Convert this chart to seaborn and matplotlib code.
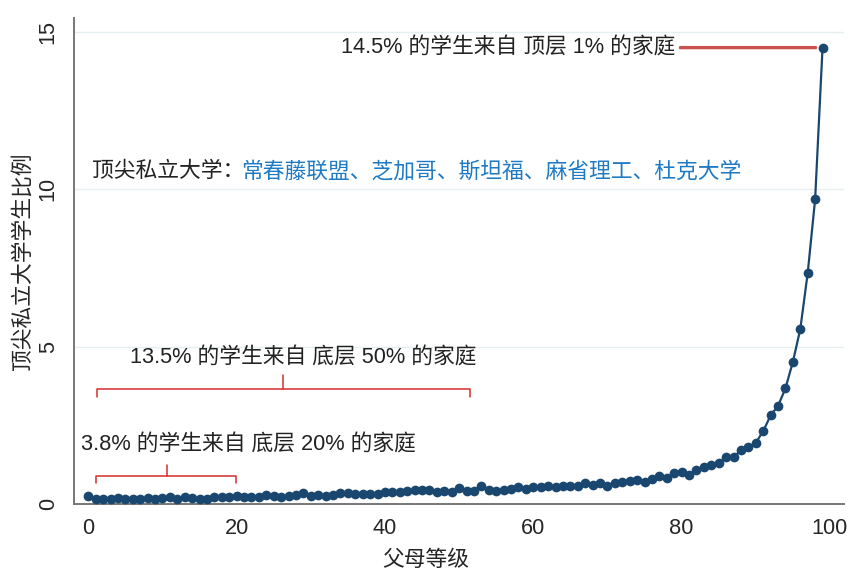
import numpy as np
import pandas as pd
import matplotlib
matplotlib.use("Agg")
import matplotlib.pyplot as plt
import seaborn as sns

# Données : part des étudiants (en %) par rang parental
parent_rank = np.arange(100)
student_share = [
    0.25, 0.16, 0.18, 0.18, 0.19, 0.16, 0.16, 0.17, 0.19, 0.16,
    0.20, 0.23, 0.16, 0.22, 0.19, 0.18, 0.16, 0.22, 0.22, 0.22,
    0.25, 0.22, 0.22, 0.22, 0.29, 0.25, 0.22, 0.25, 0.29, 0.36,
    0.27, 0.30, 0.27, 0.30, 0.36, 0.36, 0.32, 0.33, 0.33, 0.33,
    0.38, 0.38, 0.38, 0.43, 0.44, 0.46, 0.44, 0.39, 0.41, 0.40,
    0.50, 0.43, 0.43, 0.59, 0.46, 0.43, 0.46, 0.49, 0.55, 0.49,
    0.55, 0.55, 0.59, 0.55, 0.57, 0.57, 0.57, 0.68, 0.62, 0.66,
    0.57, 0.66, 0.71, 0.75, 0.76, 0.70, 0.81, 0.91, 0.84, 1.00,
    1.02, 0.94, 1.08, 1.19, 1.23, 1.31, 1.49, 1.49, 1.72, 1.81,
    1.95, 2.32, 2.82, 3.12, 3.68, 4.52, 5.56, 7.34, 9.68, 14.5,
]

x_ticks = [0, 20, 40, 60, 80, 100]
y_ticks = [0, 5, 10, 15]
x_label = "父母等级"
y_label = "顶尖私立大学学生比例"
title_black = "顶尖私立大学："
title_blue = "常春藤联盟、芝加哥、斯坦福、麻省理工、杜克大学"
note_top = "14.5% 的学生来自 顶层 1% 的家庭"
note_b50 = "13.5% 的学生来自 底层 50% 的家庭"
note_b20 = "3.8% 的学生来自 底层 20% 的家庭"

df = pd.DataFrame({"rank": parent_rank, "share": student_share})

sns.set_style("white")
plt.rcParams["font.family"] = ["Liberation Sans", "Noto Sans CJK SC", "DejaVu Sans"]

navy = "#1a476f"
red = "#d42c2c"
grey = "#777777"
fs = 15.7

fig = plt.figure(figsize=(8.5, 5.71), dpi=100)
ax = fig.add_axes([0.087, 0.117, 0.906, 0.852])

for yv in y_ticks[1:]:
    ax.axhline(yv, color="#e6eef0", lw=1.0, zorder=0)

sns.lineplot(data=df, x="rank", y="share", ax=ax, color=navy, linewidth=1.6,
             marker="o", markersize=7, markeredgewidth=0, zorder=3)

ax.set_xlim(-1.93, 101.9)
ax.set_ylim(0, 15.45)
ax.set_xticks(x_ticks)
ax.set_yticks(y_ticks)
ax.tick_params(axis="x", length=6, width=1.2, color=grey, labelsize=fs, pad=4)
ax.tick_params(axis="y", length=6, width=1.2, color=grey, labelsize=fs, pad=5)
for lab in ax.get_yticklabels():
    lab.set_rotation(90)
    lab.set_va("center")
ax.set_xlabel(x_label, fontsize=fs, va="center")
ax.xaxis.set_label_coords(0.457, -0.1165)
ax.set_ylabel(y_label, fontsize=fs, va="center")
ax.yaxis.set_label_coords(-0.066, 0.5)

for side in ["top", "right"]:
    ax.spines[side].set_visible(False)
for side in ["left", "bottom"]:
    ax.spines[side].set_color(grey)
    ax.spines[side].set_linewidth(1.4)

# Annotation du dernier centile
ax.annotate(note_top, xy=(parent_rank[-1], student_share[-1]), xytext=(79.2, 14.5),
            ha="right", va="center", fontsize=fs, color="#222222",
            arrowprops=dict(arrowstyle="-", color="#c9514f", lw=2.4,
                            shrinkA=1, shrinkB=5))

# Titre en deux couleurs
t1 = ax.text(0.5, 10.56, title_black, fontsize=fs, color="#222222", va="center", ha="left")
ax.annotate(title_blue, xy=(1, 0.5), xycoords=t1, xytext=(-2, 0),
            textcoords="offset points", va="center", ha="left",
            fontsize=fs, color="#1f7ac4")


def bracket(x0, x1, xm, y, drop, rise):
    ax.plot([x0, x0, x1, x1], [y - drop, y, y, y - drop], color=red, lw=1.1)
    ax.plot([xm, xm], [y, y + rise], color=red, lw=1.1)


bracket(1.2, 51.5, 26.3, 3.66, 0.24, 0.43)
ax.text(5.6, 4.64, note_b50, fontsize=fs, color="#222222", va="center", ha="left")

bracket(1.1, 19.9, 10.6, 0.91, 0.24, 0.34)
ax.text(-1.0, 1.88, note_b20, fontsize=fs, color="#222222", va="center", ha="left")

fig.savefig("out.png", dpi=100)
